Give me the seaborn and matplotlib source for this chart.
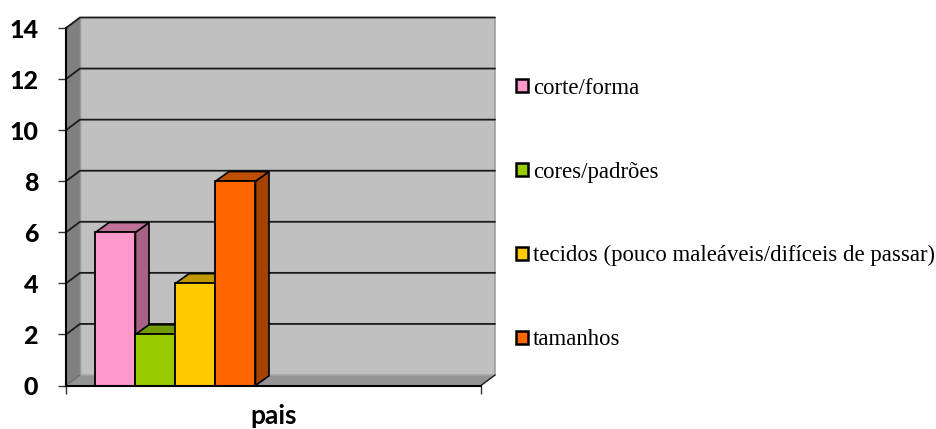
import matplotlib
matplotlib.use("Agg")
import matplotlib.pyplot as plt
from matplotlib.colors import to_rgb
from matplotlib.patches import Rectangle
import pandas as pd
import seaborn as sns

categorias = ["corte/forma", "cores/padrões", "tecidos (pouco maleáveis/difíceis de passar)", "tamanhos"]
valores = [6, 2, 4, 8]
grupo = ["pais"] * 4
cores = ["#FF99CC", "#99CC00", "#FFCC00", "#FF6600"]
yticks = [0, 2, 4, 6, 8, 10, 12, 14]

W, H = 937, 429
sns.set_theme(style="white")
fig = plt.figure(figsize=(W / 100, H / 100), dpi=100, facecolor="white")
L, R, T, B = 66, 481, 28, 385.5
ax = fig.add_axes([L / W, 1 - B / H, (R - L) / W, (B - T) / H])
ax.set_facecolor("none")

df = pd.DataFrame({"grupo": grupo, "categoria": categorias, "valor": valores})
sns.barplot(data=df, x="grupo", y="valor", hue="categoria", hue_order=categorias,
            palette=cores, width=0.8, gap=0, saturation=1, edgecolor="black",
            linewidth=1.3, ax=ax, zorder=6)
bars = [p for p in ax.patches if isinstance(p, Rectangle) and p.get_height() > 0]

x0, x1 = -0.5475, 1.5275
ax.set_xlim(x0, x1)
ax.set_ylim(yticks[0], yticks[-1])
px_x = (x1 - x0) / (R - L)
px_y = (yticks[-1] - yticks[0]) / (B - T)
dx, dy = 14 * px_x, 10.5 * px_y
bdx, bdy = 13.5 * px_x, 9.7 * px_y
ymin, ymax = yticks[0], yticks[-1]

# walls and floor
kw = dict(clip_on=False, lw=0)
ax.fill([x0 + dx, x1 + dx, x1 + dx, x0 + dx], [ymin + dy, ymin + dy, ymax + dy, ymax + dy], color="#C0C0C0", zorder=1, **kw)
ax.fill([x0, x0 + dx, x0 + dx, x0], [ymin, ymin + dy, ymax + dy, ymax], color="#808080", zorder=1, **kw)
ax.fill([x0, x1, x1 + dx, x0 + dx], [ymin, ymin, ymin + dy, ymin + dy], color="#949494", zorder=1, **kw)
ax.plot([x1 + dx, x1 + dx], [ymin + dy, ymax + dy], color="#999999", lw=1.1, clip_on=False, zorder=1.5)
ax.plot([x0 + dx, x1 + dx], [ymin + dy, ymin + dy], color="#A6A6A6", lw=1.2, clip_on=False, zorder=1.5)
ax.plot([x0 + dx, x0 + dx], [ymin + dy, ymax + dy], color="#999999", lw=1, clip_on=False, zorder=1.5)
for v in yticks[1:]:
    ax.plot([x0, x0 + dx, x1 + dx], [v, v + dy, v + dy], color="#1a1a1a", lw=1.3, clip_on=False, zorder=2)
ax.plot([x1, x1 + dx], [ymin, ymin + dy], color="#1a1a1a", lw=1.0, clip_on=False, zorder=2)
ax.plot([x0, x0 + dx], [ymin, ymin + dy], color="#666666", lw=0.8, clip_on=False, zorder=2)

# 3D faces built from the bars seaborn drew
for i, (p, c) in enumerate(zip(bars, cores)):
    a, w, h = p.get_x(), p.get_width(), p.get_height()
    r = to_rgb(c)
    top = tuple(v * 0.75 for v in r)
    side = tuple(v * 0.65 for v in r)
    z = 3 + i * 0.5
    p.set_zorder(z + 0.2)
    ax.fill([a + w, a + w + bdx, a + w + bdx, a + w], [0, bdy, h + bdy, h], facecolor=side,
            edgecolor="black", lw=1.2, clip_on=False, zorder=z)
    ax.fill([a, a + bdx, a + w + bdx, a + w], [h, h + bdy, h + bdy, h], facecolor=top,
            edgecolor="black", lw=1.2, clip_on=False, zorder=z + 0.1)

for s in ["top", "right"]:
    ax.spines[s].set_visible(False)
for s in ["left", "bottom"]:
    ax.spines[s].set_visible(True)
    ax.spines[s].set_color("black")
    ax.spines[s].set_linewidth(1.5)
    ax.spines[s].set_zorder(8)

ax.set_yticks(yticks)
ax.set_yticklabels([str(v) for v in yticks], fontfamily="Lato", fontweight="black", fontsize=18, color="black")
ax.set_xticks([x0, x1])
ax.set_xticklabels(["", ""])
ax.tick_params(axis="y", left=True, length=6, width=1, color="#333333", pad=14)
ax.tick_params(axis="x", bottom=True, length=6, width=1, color="#333333")
ax.set_ylabel("")
ax.set_xlabel("pais", fontfamily="Lato", fontweight="bold", fontsize=19, labelpad=0, color="black")
ax.xaxis.set_label_coords(0.5, -0.052)

handles, labels = ax.get_legend_handles_labels()
leg = ax.legend(handles, labels, loc="center left", frameon=False,
                bbox_to_anchor=(516 / W, 1 - 214 / H), bbox_transform=fig.transFigure,
                prop={"family": "Liberation Serif", "size": 16.4},
                handlelength=0.52, handleheight=0.52, handletextpad=0.22,
                labelspacing=2.755, borderpad=0, borderaxespad=0, labelcolor="black")
for h in leg.legend_handles:
    h.set_edgecolor("black")
    h.set_linewidth(1.8)

fig.savefig("out.png", dpi=100, facecolor="white")
